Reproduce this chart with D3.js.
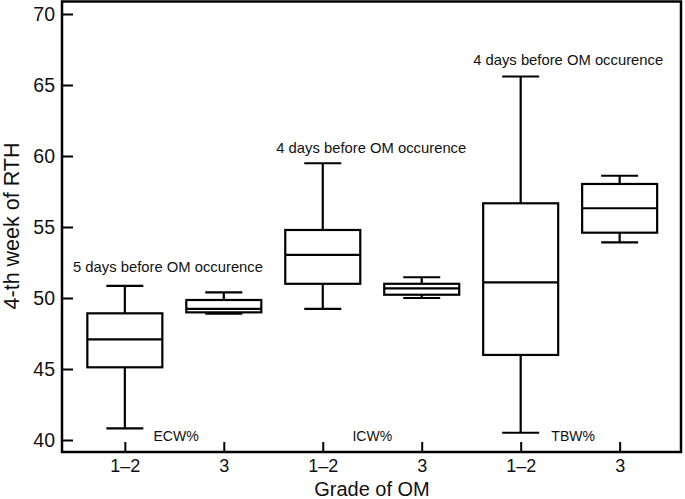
<!DOCTYPE html>
<html><head><meta charset="utf-8">
<script src="https://cdn.jsdelivr.net/npm/d3@7"></script>
<style>body{margin:0;background:#fff}svg{display:block}text{font-family:"Liberation Sans",Arial,sans-serif;fill:#111}</style>
</head><body><svg id="c" width="685" height="499"></svg>
<script>
const categories = ["1–2","3","1–2","3","1–2","3"];
const whiskerHigh = [50.85, 50.4, 59.49, 51.46, 65.6, 58.61];
const q3 = [48.92, 49.86, 54.79, 51.0, 56.67, 58.03];
const median = [47.09, 49.23, 53.03, 50.68, 51.1, 56.32];
const q1 = [45.12, 48.99, 51.0, 50.23, 45.99, 54.6];
const whiskerLow = [40.82, 48.9, 49.23, 50.0, 40.51, 53.92];
const yTicks = [40, 45, 50, 55, 60, 65, 70];
const groupLabels = ["ECW%", "ICW%", "TBW%"];
const groupLabelPos = [1.29, 3.30, 5.31];
const groupLabelY = [39.95, 39.95, 39.95];
const notes = ["5 days before OM occurence", "4 days before OM occurence", "4 days before OM occurence"];
const notePos = [1.436, 3.49, 5.48];
const noteY = [51.85, 60.19, 66.41];

const svg = d3.select("#c");
const L = 62, R = 681, T = 1.5, B = 452;
const x = d3.scaleLinear().domain([0.365, 6.62]).range([L, R]);
const y = d3.scaleLinear().domain([39.155, 70.88]).range([B, T]);
const idx = categories.map((d, i) => i + 1);

// frame
svg.append("rect").attr("x", L).attr("y", T).attr("width", R - L).attr("height", B - T)
  .attr("fill", "none").attr("stroke", "#000").attr("stroke-width", 2.5);

// y axis
const ya = svg.append("g").attr("transform", `translate(${L},0)`)
  .call(d3.axisLeft(y).tickValues(yTicks).tickSizeInner(-11).tickSizeOuter(0).tickPadding(7).tickFormat(d3.format("d")));
ya.select(".domain").remove();
ya.selectAll("line").attr("stroke", "#000").attr("stroke-width", 2);
ya.selectAll("text").attr("x", -7).style("font-size", "19.5px").attr("fill", "#111");

// x axis
const xa = svg.append("g").attr("transform", `translate(0,${B})`)
  .call(d3.axisBottom(x).tickValues(idx).tickSizeInner(-10).tickSizeOuter(0).tickFormat((d, i) => categories[i]));
xa.select(".domain").remove();
xa.selectAll("line").attr("stroke", "#000").attr("stroke-width", 2);
xa.selectAll("text").attr("y", 7).style("font-size", "18px").attr("fill", "#111");

// boxes
const bw = 75, cw = 37;
const g = svg.append("g").attr("stroke", "#000").attr("stroke-width", 2.2).attr("fill", "none");
idx.forEach((c, i) => {
  const cx = x(c);
  g.append("line").attr("x1", cx).attr("x2", cx).attr("y1", y(whiskerHigh[i])).attr("y2", y(q3[i]));
  g.append("line").attr("x1", cx).attr("x2", cx).attr("y1", y(q1[i])).attr("y2", y(whiskerLow[i]));
  g.append("line").attr("x1", cx - cw / 2).attr("x2", cx + cw / 2).attr("y1", y(whiskerHigh[i])).attr("y2", y(whiskerHigh[i]));
  g.append("line").attr("x1", cx - cw / 2).attr("x2", cx + cw / 2).attr("y1", y(whiskerLow[i])).attr("y2", y(whiskerLow[i]));
  g.append("rect").attr("x", cx - bw / 2).attr("width", bw).attr("y", y(q3[i])).attr("height", y(q1[i]) - y(q3[i]));
  g.append("line").attr("x1", cx - bw / 2).attr("x2", cx + bw / 2).attr("y1", y(median[i])).attr("y2", y(median[i]));
});

// annotations
notes.forEach((t, i) => {
  svg.append("text").attr("x", x(notePos[i])).attr("y", y(noteY[i])).attr("text-anchor", "middle")
    .style("font-size", "14.8px").text(t);
});
groupLabels.forEach((t, i) => {
  svg.append("text").attr("x", x(groupLabelPos[i])).attr("y", y(groupLabelY[i])).attr("text-anchor", "start")
    .style("font-size", "14px").text(t);
});

// axis titles
svg.append("text").attr("transform", "translate(19,226) rotate(-90)").attr("text-anchor", "middle")
  .style("font-size", "21.5px").text("4-th week of RTH");
svg.append("text").attr("x", 372).attr("y", 496).attr("text-anchor", "middle")
  .style("font-size", "20px").text("Grade of OM");
</script></body></html>
